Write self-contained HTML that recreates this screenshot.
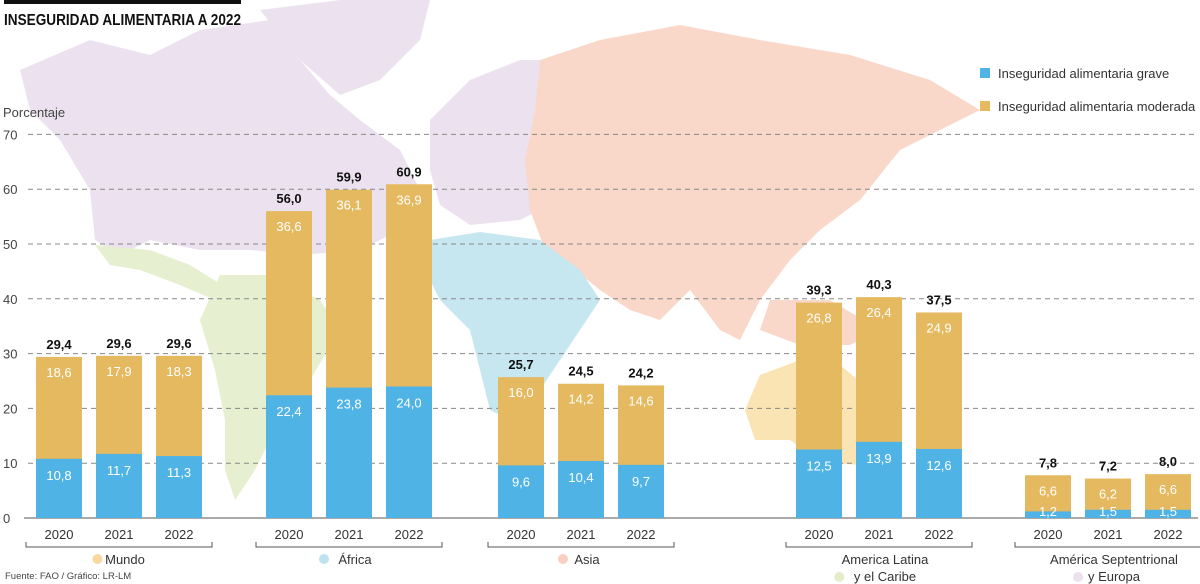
<!DOCTYPE html>
<html><head><meta charset="utf-8"><style>
html,body{margin:0;padding:0;background:#fff}
svg{display:block;font-family:"Liberation Sans",sans-serif}
</style></head><body>
<svg id="c" width="1200" height="584" viewBox="0 0 1200 584">
<g id="map">
 <path fill="#ece2ef" d="M20,70 L90,40 L150,55 L200,30 L270,20 L300,60 L330,95 L360,120 L400,150 L420,190 L400,230 L360,250 L300,255 L250,250 L200,250 L150,240 L120,255 L95,240 L90,190 L60,140 L30,110 Z"/>
 <path fill="#ece2ef" d="M260,10 L340,0 L430,0 L420,40 L380,80 L340,95 L300,60 Z"/>
 <path fill="#ece2ef" d="M430,120 L470,80 L520,60 L560,60 L540,120 L530,170 L560,200 L520,220 L470,225 L440,205 L430,170 Z"/>
 <path fill="#f9d8ca" d="M540,60 L600,40 L680,25 L760,40 L850,55 L930,80 L980,110 L900,150 L860,200 L820,230 L790,260 L760,300 L740,340 L720,330 L690,290 L660,320 L630,310 L600,290 L575,270 L545,250 L530,210 L525,160 L535,110 Z"/>
 <path fill="#f9d8ca" d="M770,300 L830,300 L880,330 L850,345 L800,345 L760,330 Z"/>
 <path fill="#c6e6f0" d="M430,240 L480,232 L540,240 L580,270 L600,300 L580,330 L560,360 L540,390 L510,420 L490,410 L480,370 L470,330 L440,300 L425,270 Z"/>
 <path fill="#e6efcf" d="M95,245 L150,250 L190,265 L230,290 L215,300 L180,285 L140,270 L110,265 Z"/>
 <path fill="#e6efcf" d="M220,275 L270,275 L320,300 L340,330 L310,380 L280,420 L255,470 L235,500 L225,470 L225,420 L215,370 L200,320 Z"/>
 <path fill="#fbe4b3" d="M760,375 L800,360 L840,365 L870,390 L880,430 L860,465 L820,462 L790,440 L755,440 L745,410 Z"/>
</g>
<g id="grid"></g>
<g id="bars"></g>
<g id="labels"></g>
<text x="4" y="25" font-size="16" font-weight="bold" fill="#111" textLength="237" lengthAdjust="spacingAndGlyphs">INSEGURIDAD ALIMENTARIA A 2022</text>
<rect x="4" y="0" width="237" height="4" fill="#111"/>
<text x="3" y="117" font-size="13" fill="#444">Porcentaje</text>
<g>
 <rect x="980" y="68" width="10" height="10" fill="#4fb3e6"/>
 <text x="998" y="78" font-size="13" fill="#333">Inseguridad alimentaria grave</text>
 <rect x="980" y="101" width="10" height="10" fill="#e5b95f"/>
 <text x="998" y="111" font-size="13" fill="#333">Inseguridad alimentaria moderada</text>
</g>
<text x="5" y="579" font-size="9.5" fill="#444">Fuente: FAO / Gráfico: LR-LM</text>
</svg>
<script>
const yTicks=[0,10,20,30,40,50,60,70];
const years=["2020","2021","2022"];
const groups=["Mundo","África","Asia","America Latina|y el Caribe","América Septentrional|y Europa"];
const groupDot=["#f7d9a0","#bfe3ee","#f8cfc0","#e3edc9","#ece0ee"];
const totals=[29.4,29.6,29.6, 56.0,59.9,60.9, 25.7,24.5,24.2, 39.3,40.3,37.5, 7.8,7.2,8.0];
const moderada=[18.6,17.9,18.3, 36.6,36.1,36.9, 16.0,14.2,14.6, 26.8,26.4,24.9, 6.6,6.2,6.6];
const grave=[10.8,11.7,11.3, 22.4,23.8,24.0, 9.6,10.4,9.7, 12.5,13.9,12.6, 1.2,1.5,1.5];
const fmt=v=>v.toFixed(1).replace('.',',');
const NS="http://www.w3.org/2000/svg";
const y0=518, k=5.48;
const Y=v=>y0-v*k;
const groupX=[36,266,498,796,1025], pitch=60, bw=46;
function mk(t,a,p){const e=document.createElementNS(NS,t);for(const q in a)e.setAttribute(q,a[q]);p.appendChild(e);return e;}
const grid=document.getElementById('grid'), bars=document.getElementById('bars'), lab=document.getElementById('labels');
yTicks.forEach(t=>{
 const l=mk('line',{x1:t?28:24,x2:1198,y1:Y(t),y2:Y(t),stroke:t?'#888':'#555','stroke-dasharray':t?'5,4':'none','stroke-width':1},grid);
 
 
 const tx=mk('text',{x:3,y:Y(t)+5,'font-size':13,fill:'#444'},grid);
 tx.textContent=t;
 
 
});
groups.forEach((g,gi)=>{
 years.forEach((yr,yi)=>{
  const i=gi*3+yi, x=groupX[gi]+yi*pitch, cx=x+bw/2;
  const ro=mk('rect',{x:x,y:Y(totals[i]),width:bw,height:totals[i]*k,fill:'#e5b95f'},bars);
  
  
  const rb=mk('rect',{x:x,y:Y(grave[i]),width:bw,height:grave[i]*k,fill:'#4fb3e6'},bars);
  
  
  const t1=mk('text',{x:cx,y:Y(totals[i])-8,'font-size':13,'font-weight':'bold',fill:'#111','text-anchor':'middle'},lab);
  t1.textContent=fmt(totals[i]);
  
  
  const t2=mk('text',{x:cx,y:Y(totals[i])+20,'font-size':13,fill:'#fff','text-anchor':'middle'},lab);
  t2.textContent=fmt(moderada[i]);
  
  
  const t3=mk('text',{x:cx,y:Math.min(Y(grave[i])+21,516),'font-size':13,fill:'#fff','text-anchor':'middle'},lab);
  t3.textContent=fmt(grave[i]);
  
  
  const t4=mk('text',{x:cx,y:539,'font-size':13,fill:'#333','text-anchor':'middle'},lab);
  t4.textContent=yr;
  
  
 });
 const gx1=groupX[gi]-10, gx2=groupX[gi]+2*pitch+bw+10, mid=(gx1+gx2)/2;
 const br=mk('path',{d:`M${gx1},542 V547 H${gx2} V542`,fill:'none',stroke:'#555','stroke-width':1},lab);
 
 
 const parts=g.split('|');
 const t=mk('text',{x:mid+6,y:564,'font-size':13,fill:'#333','text-anchor':'middle'},lab);
 t.textContent=parts[0];
 
 
 let dy=559;
 if(parts[1]){const t2=mk('text',{x:mid+6,y:581,'font-size':13,fill:'#333','text-anchor':'middle'},lab);t2.textContent=parts[1];
  
  dy=577;}
 const w=parts[1]?parts[1].length*6.5:parts[0].length*7;
 const d=mk('circle',{cx:mid+6-w/2-10,cy:dy,r:5,fill:groupDot[gi]},lab);
 
 
});
</script>
</body></html>
